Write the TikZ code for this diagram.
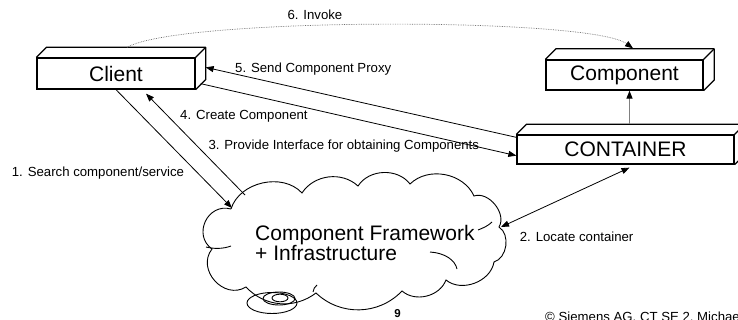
\documentclass[tikz,border=0pt]{standalone}
\usepackage{fontspec}
\setmainfont{Liberation Sans}
\usetikzlibrary{arrows.meta,calc}
\definecolor{linkgray}{RGB}{128,128,128}
\definecolor{dotgray}{RGB}{110,110,110}

\tikzset{
  cube/.style={draw=black, line width=1.3pt, fill=white, inner sep=0pt,
    font=\fontsize{21}{24}\selectfont},
  depthline/.style={draw=black, line width=1.3pt, line join=round},
  tip/.style={-{Triangle[length=8pt,width=6pt]}},
  flow/.style={draw=black, line width=0.8pt, tip},
  msgtext/.style={font=\fontsize{13.2}{15}\selectfont, inner sep=0pt, anchor=base west},
  cloudline/.style={draw=black, line width=0.9pt},
}

% top and right faces of a box node, #2 = depth
\newcommand\cubedepth[2]{%
  \draw[depthline] (#1.north west) -- ++(#2,-#2) -- ($(#1.north east)+(#2,-#2)$)
    -- ($(#1.south east)+(#2,-#2)$) -- (#1.south east);
  \draw[depthline] (#1.north east) -- ++(#2,-#2);
}

\begin{document}
\begin{tikzpicture}[x=1pt,y=-1pt]
\useasboundingbox (0,0) rectangle (738,320);
\clip (0,0) rectangle (738,320);

% boxes
\node[cube, minimum width=158pt, minimum height=31pt] (client) at (116,73.5) {Client};
\cubedepth{client}{10}
\node[cube, minimum width=157pt, minimum height=30pt] (component) at (624.5,75) {Component};
\cubedepth{component}{10.5}
\node[cube, minimum width=217pt, minimum height=29pt] (container) at (625.5,149.5) {CONTAINER};
\cubedepth{container}{10}

% cloud outline
\coordinate (k1) at (231,209);
\coordinate (k2) at (302,193);
\coordinate (k3) at (358,186);
\coordinate (k4) at (410,184);
\coordinate (k5) at (474,196);
\coordinate (k6) at (499,227);
\coordinate (k7) at (494,262);
\coordinate (k8) at (446,280);
\coordinate (k9) at (402,291);
\coordinate (k10) at (316,293);
\coordinate (k11) at (246,287);
\coordinate (k12) at (212,249);
\draw[cloudline] (k1) to[bend left=60] (k2) to[bend left=50] (k3)
  to[bend left=55] (k4) to[bend left=55] (k5) to[bend left=70] (k6)
  to[bend left=65] (k7) to[bend left=60] (k8) to[bend left=55] (k9)
  to[bend left=45] (k10) to[bend left=42] (k11)
  to[bend left=80, looseness=1.3] (k12) to[bend left=80, looseness=1.4] (k1);
% inner strokes of the cloud
\draw[cloudline] (206,247) .. controls (214,249) and (223,249) .. (231,246);
\draw[cloudline] (478,230) .. controls (483,228) and (488,226) .. (492,222);
\draw[cloudline] (430,252) .. controls (445,253) and (455,260) .. (457,269);
\draw[cloudline] (313,292) .. controls (313,289) and (315,287) .. (317,285);
% small spiral
\draw[cloudline] (272,303) ellipse [x radius=25pt, y radius=10.5pt];
\draw[cloudline] (279,298.5) ellipse [x radius=16pt, y radius=6.5pt];
\draw[cloudline] (280,298) ellipse [x radius=8pt, y radius=3.8pt];

\node[font=\fontsize{21}{20.5}\selectfont, align=left, inner sep=0pt, anchor=north west]
  (cloudtext) at (255,224.7) {Component Framework\\+ Infrastructure};

% connectors
\coordinate (searchend) at (232,208);
\coordinate (createstart) at (245,195);
\coordinate (locateend) at (501,227);
\draw[flow] (client.south) -- (searchend);
\draw[flow] (createstart) -- ($(client.south)+(30,4)$);
\draw[flow] ($(client.south east)+(5,-6)$) -- ($(container.south west)+(0,-9)$);
\draw[flow] ($(container.north west)+(0,3)$) -- ($(client.north east)+(10,10)$);
\draw[flow, {Triangle[length=8pt,width=6pt]}-{Triangle[length=8pt,width=6pt]}]
  ($(container.south)+(4,3)$) -- (locateend);
\coordinate (hostout) at ($(container.north)+(4,-10)$);
\draw[line width=1.2pt, draw=linkgray, -{Triangle[length=8pt,width=6pt,color=black]}]
  (hostout) -- (hostout |- component.south);
\draw[dotgray, line width=0.7pt, densely dotted, -{Triangle[length=8pt,width=6pt,color=black]}]
  ($(client.north)+(11,-10)$) .. controls (180,17) and (590,17) .. ($(component.north)+(8.5,-11)$);

% labels
\node[msgtext] (t6) at (287.3,19.3) {6. Invoke};
\node[msgtext] (t5) at (235,72.7) {5. Send Component Proxy};
\node[msgtext] (t4) at (180,119.3) {4. Create Component};
\node[msgtext] (t3) at (208.3,149.5) {3. Provide Interface for obtaining Components};
\node[msgtext] (t1) at (11.7,176.7) {1. Search component/service};
\node[msgtext] (t2) at (519.7,241) {2. Locate container};
\node[font=\bfseries\fontsize{11.5}{12}\selectfont, inner sep=0pt, anchor=base] (pagenum) at (397.5,317.5) {9};
\node[msgtext] (footer) at (545,321) {© Siemens AG, CT SE 2, Michael};
\end{tikzpicture}
\end{document}
